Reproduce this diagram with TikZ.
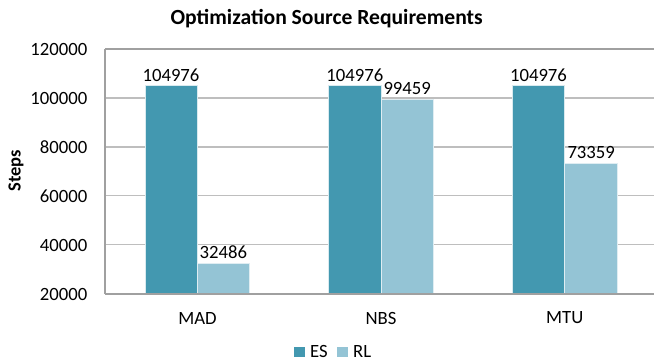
\documentclass[tikz,border=0pt]{standalone}
\usepackage{fontspec}
\setmainfont{Carlito}
\definecolor{esc}{RGB}{67,152,176}
\definecolor{rlc}{RGB}{148,196,213}
\definecolor{axisc}{RGB}{160,160,160}
\definecolor{gridc}{RGB}{190,190,190}
\tikzset{
  lbl/.style={font=\fontsize{18.7bp}{20bp}\selectfont, inner sep=0pt},
  tick/.style={lbl, anchor=east},
  val/.style={lbl, anchor=base},
  esbar/.style={fill=esc, draw=white!80!esc, line width=0.8bp},
  rlbar/.style={fill=rlc, draw=white!70!rlc, line width=0.8bp},
  gridline/.style={draw=gridc, line width=1.2bp},
  axisline/.style={draw=axisc, line width=1.6bp}
}
\begin{document}
\begin{tikzpicture}[x=1bp,y=-1bp]
\useasboundingbox (0,0) rectangle (654,362);
% gridlines
\foreach \y in {98.0, 146.9, 195.8, 244.8} {
  \draw[gridline] (105,\y) -- (654,\y);
}
\draw[axisline] (105,49) -- (654,49);
% bars
\path[esbar] (145,293.7) rectangle (197,{293.7-84.976*2.447});
\path[rlbar] (197,293.7) rectangle (249.7,{293.7-12.486*2.447});
\path[esbar] (328.7,293.7) rectangle (381,{293.7-84.976*2.447});
\path[rlbar] (381,293.7) rectangle (433.3,{293.7-79.459*2.447});
\path[esbar] (512.3,293.7) rectangle (564.7,{293.7-84.976*2.447});
\path[rlbar] (564.7,293.7) rectangle (617.7,{293.7-53.359*2.447});
% axes
\draw[axisline] (105,49) -- (105,293.7);
\draw[axisline] (105,293.7) -- (654,293.7);
% tick labels
\node[tick] (t120) at (87.5,49.5) {120000};
\node[tick] (t100) at (87.5,98.5) {100000};
\node[tick] (t80) at (87.5,147.4) {80000};
\node[tick] (t60) at (87.5,196.3) {60000};
\node[tick] (t40) at (87.5,245.3) {40000};
\node[tick] (t20) at (87.5,294.2) {20000};
% value labels
\node[val] (v1) at (171,81.3) {104976};
\node[val] (v2) at (223.3,{293.7-12.486*2.447-4.5}) {32486};
\node[val] (v3) at (354.8,81.3) {104976};
\node[val] (v4) at (407.2,{293.7-79.459*2.447-4.5}) {99459};
\node[val] (v5) at (538.5,81.3) {104976};
\node[val] (v6) at (591.2,{293.7-53.359*2.447-4.5}) {73359};
% category labels
\node[lbl] (c1) at (197.5,318) {MAD};
\node[lbl] (c2) at (381,318) {NBS};
\node[lbl] (c3) at (564.7,318) {MTU};
% axis title
\node[lbl, font=\fontsize{18.5bp}{20bp}\selectfont\bfseries, rotate=90] (ylab) at (16,171) {Steps};
% title
\node[lbl, font=\fontsize{21.6bp}{23bp}\selectfont\bfseries] (title) at (326.7,19) {Optimization Source Requirements};
% legend
\fill[esc] (294.3,346.8) rectangle (304.8,356.8);
\node[lbl, anchor=base west] (les) at (310,357.3) {ES};
\fill[rlc] (337,346.8) rectangle (347.7,356.8);
\node[lbl, anchor=base west] (lrl) at (353,357.3) {RL};
\end{tikzpicture}
\end{document}
